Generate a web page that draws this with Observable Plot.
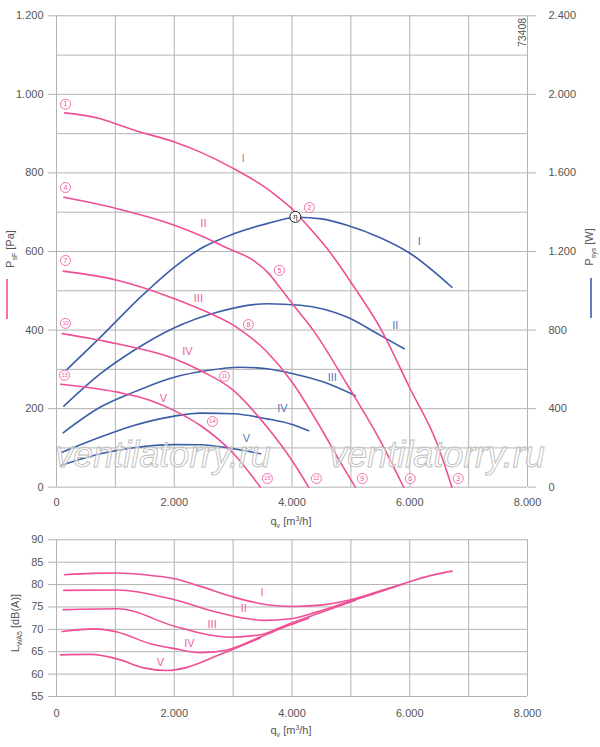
<!DOCTYPE html>
<html>
<head>
<meta charset="utf-8">
<script src="https://cdn.jsdelivr.net/npm/d3@7"></script>
<script src="https://cdn.jsdelivr.net/npm/@observablehq/plot@0.6"></script>
<style>
  html, body { margin: 0; padding: 0; background: #fff; }
  #chart svg { display: block; }
</style>
</head>
<body>
<div id="chart"></div>
<script>
// ---------------- DATA ----------------
// Flow q [m³/h] vs static pressure P_sF [Pa]
const pressureI_a = [[140,953],[747,938],[1030,924],[1312,909],[2003,879],[2444,853],[3010,811],[3576,760],[4000,709]];
const pressureI_b = [[4000,709],[4300,660],[4600,607],[5076,505],[5500,405],[6009,250],[6462,112],[6717,0]];
const pressureII  = [[125,738],[1030,709],[2003,667],[2444,641],[2925,607],[3349,577],[3600,545],[3802,507],[4000,468],[4368,398],[4934,262],[5500,118],[5896,0]];
const pressureIII = [[115,550],[1030,527],[2003,480],[2558,446],[3010,412],[3576,344],[4000,268],[4538,138],[4821,64],[5076,0]];
const pressureIV  = [[100,391],[1030,365],[2003,327],[2444,297],[3010,246],[3576,153],[4000,68],[4283,0]];
const pressureV   = [[70,262],[1030,242],[1596,221],[2003,195],[2444,157],[3010,85],[3463,0]];

// Flow q vs system power P_sys [W]
const powerI   = [[180,600],[747,764],[1426,968],[2003,1121],[2444,1214],[3010,1290],[3576,1342],[4100,1374],[4500,1366],[4935,1334],[5500,1270],[6009,1190],[6717,1018]];
const powerII  = [[125,413],[747,578],[1312,696],[2003,812],[2728,891],[3576,934],[4142,926],[4934,866],[5500,773],[5907,705]];
const powerIII = [[113,277],[747,408],[1312,484],[2003,560],[2558,594],[3123,611],[3576,603],[4000,579],[4538,535],[5076,466]];
const powerIV  = [[96,178],[747,255],[1312,314],[2003,362],[2444,377],[3010,374],[3576,348],[3972,322],[4283,288]];
const powerV   = [[68,110],[747,170],[1312,201],[2003,217],[2444,216],[3010,196],[3463,170]];

// Flow q vs sound power L_WA5 [dB(A)]
const soundI   = [[136,82.2],[600,82.5],[1030,82.6],[1500,82.2],[2003,81.3],[2444,79.6],[3010,77.2],[3576,75.5],[3972,75.1],[4481,75.4],[4991,76.6],[5500,78.6],[5896,80.2],[6349,82.0],[6717,83.0]];
const soundII  = [[124,78.7],[1030,78.8],[2003,76.6],[2728,73.8],[2954,73.1],[3293,72.3],[3519,72.0],[3972,72.35],[4425,73.9],[4991,76.3],[5500,78.4],[5896,80.2]];
const soundIII = [[113,74.4],[1030,74.6],[2003,70.7],[2558,68.85],[2954,68.25],[3463,68.8],[3800,70.4],[3972,71.3],[4500,73.8],[5076,76.5]];
const soundIV  = [[96,69.5],[634,70.1],[1030,69.4],[1596,66.8],[2003,65.7],[2444,64.8],[2897,65.4],[3463,68.3],[3972,71.0],[4283,72.5]];
const soundV   = [[68,64.3],[577,64.4],[1030,63.4],[1482,61.4],[1879,60.8],[2218,61.5],[2671,63.8],[3123,66.2],[3463,68.1]];

// Curve labels
const speedNames = ["I","II","III","IV","V"];
const pressureLabelQ = [3174,2495,2410,2224,1816];
const pressureLabelP = [837,671,481,346,226];
const powerLabelQ = [6162,5755,4685,3836,3225];
const powerLabelW = [1250,824,559,401,248];
const soundLabelQ = [3492,3180,2643,2258,1765];
const soundLabelL = [78.2,74.6,71.1,66.9,62.7];

// Operating point markers ①..⑮
const markerText = ["1","2","3","4","5","6","7","8","9","10","11","12","13","14","15"];
const markerQ = [153,4295,6824,153,3785,6009,153,3259,5194,153,2852,4414,136,2648,3582];
const markerP = [975,712,22,763,552,22,577,414,22,417,282,22,285,167,22];
const effMarker = [[4057,1376]]; // q, W

// Ticks
const flowTicks = [0,2000,4000,6000,8000];
const flowGrid = [0,1000,2000,3000,4000,5000,6000,7000,8000];
const pressureTicks = [0,200,400,600,800,1000,1200];
const pressureGrid = [0,100,200,300,400,500,600,700,800,900,1000,1100,1200];
const soundTicks = [55,60,65,70,75,80,85,90];

// ---------------- STYLE ----------------
const PINK = "#ef4f96", BLUE = "#3b5ea6", PINK_T = "#f0609f", BLUE_T = "#5678ba";
const GRID = "#b3b3b3", TEXT = "#555", FONT = "'Liberation Sans', Arial, sans-serif";
const fmt = d3.formatLocale({decimal: ",", thousands: ".", grouping: [3], currency: ["", ""]}).format(",.0f");

const rows = (pairs, series) => pairs.map(([q, v]) => ({q, v, series}));
const pressureRows = [
  ...rows(pressureI_a, "Ia"), ...rows(pressureI_b, "Ib"), ...rows(pressureII, "II"),
  ...rows(pressureIII, "III"), ...rows(pressureIV, "IV"), ...rows(pressureV, "V")
];
const powerRows = [
  ...rows(powerI, "I"), ...rows(powerII, "II"), ...rows(powerIII, "III"), ...rows(powerIV, "IV"), ...rows(powerV, "V")
];
const soundRows = [
  ...rows(soundI, "I"), ...rows(soundII, "II"), ...rows(soundIII, "III"), ...rows(soundIV, "IV"), ...rows(soundV, "V")
];
const pLabels = speedNames.map((t, i) => ({t, q: pressureLabelQ[i], v: pressureLabelP[i]}));
const wLabels = speedNames.map((t, i) => ({t, q: powerLabelQ[i], v: powerLabelW[i]}));
const sLabels = speedNames.map((t, i) => ({t, q: soundLabelQ[i], v: soundLabelL[i]}));
const markers = markerText.map((t, i) => ({t, q: markerQ[i], v: markerP[i]}));

const baseStyle = {fontFamily: FONT, fontSize: "11px", background: "white", overflow: "visible", color: TEXT};

// ---------------- TOP PLOT ----------------
const topPlot = Plot.plot({
  width: 600, height: 530,
  marginLeft: 56, marginRight: 73, marginTop: 15.3, marginBottom: 43.3,
  x: {domain: [0, 8000]},
  y: {domain: [0, 1200]},
  style: baseStyle,
  marks: [
    Plot.ruleX(flowGrid, {stroke: GRID, strokeWidth: 1}),
    Plot.ruleY(pressureGrid, {stroke: GRID, strokeWidth: 1}),
    Plot.axisY(pressureTicks, {tickFormat: fmt, tickSize: 8, tickPadding: 5, stroke: GRID, fill: TEXT, fontSize: 11, label: null}),
    Plot.axisY(pressureTicks, {anchor: "right", tickFormat: d => fmt(d * 2), tickSize: 8, tickPadding: 13, stroke: GRID, fill: TEXT, fontSize: 11, label: null}),
    Plot.axisX(flowTicks, {tickFormat: fmt, tickSize: 0, tickPadding: 11, fill: TEXT, fontSize: 11, label: null}),
    Plot.line(powerRows, {x: "q", y: d => d.v / 2, z: "series", stroke: BLUE, strokeWidth: 1.6, curve: "monotone-x"}),
    Plot.line(pressureRows, {x: "q", y: "v", z: "series", stroke: PINK, strokeWidth: 1.6, curve: "monotone-x"}),
    Plot.text(pLabels, {x: "q", y: "v", text: "t", fill: PINK_T, fontSize: 11}),
    Plot.text(wLabels, {x: "q", y: d => d.v / 2, text: "t", fill: BLUE_T, fontSize: 11}),
    Plot.dot(markers, {x: "q", y: "v", r: 5, stroke: PINK, fill: "white", strokeWidth: 0.8}),
    Plot.text(markers, {x: "q", y: "v", text: "t", fill: PINK, fontSize: d => d.t.length > 1 ? 5.5 : 7}),
    Plot.dot(effMarker, {x: d => d[0], y: d => d[1] / 2, r: 5.5, stroke: "#222", fill: "white", strokeWidth: 1}),
    Plot.text(effMarker, {x: d => d[0], y: d => d[1] / 2, text: () => "η", fill: "#222", fontSize: 8})
  ]
});

// ---------------- BOTTOM PLOT ----------------
const bottomPlot = Plot.plot({
  width: 600, height: 217,
  marginLeft: 56, marginRight: 73, marginTop: 9.3, marginBottom: 51,
  x: {domain: [0, 8000]},
  y: {domain: [55, 90]},
  style: baseStyle,
  marks: [
    Plot.ruleX(flowGrid, {stroke: GRID, strokeWidth: 1}),
    Plot.ruleY(soundTicks, {stroke: GRID, strokeWidth: 1}),
    Plot.axisY(soundTicks, {tickSize: 8, tickPadding: 5, stroke: GRID, fill: TEXT, fontSize: 11, label: null}),
    Plot.axisX(flowTicks, {tickFormat: fmt, tickSize: 0, tickPadding: 13, fill: TEXT, fontSize: 11, label: null}),
    Plot.line(soundRows, {x: "q", y: "v", z: "series", stroke: PINK, strokeWidth: 1.6, curve: "monotone-x"}),
    Plot.text(sLabels, {x: "q", y: "v", text: "t", fill: PINK_T, fontSize: 11})
  ]
});

// ---------------- ANNOTATIONS ----------------
function richText(svg, x, y, parts, {rotate = 0, anchor = "middle", size = 11, fill = TEXT} = {}) {
  const t = svg.append("text")
    .attr("transform", `translate(${x},${y})` + (rotate ? ` rotate(${rotate})` : ""))
    .attr("text-anchor", anchor).attr("font-size", size).attr("fill", fill).attr("font-family", FONT);
  let shift = 0;
  for (const [s, kind] of parts) {
    const target = kind === "sub" ? 3 : kind === "sup" ? -4 : 0;
    const ts = t.append("tspan").text(s).attr("dy", target - shift);
    if (kind) ts.attr("font-size", 7);
    shift = target;
  }
  return t;
}
const flowLabel = [["q", ""], ["v", "sub"], [" [m", ""], ["3", "sup"], ["/h]", ""]];

const st = d3.select(topPlot);
richText(st, 291, 525, flowLabel);
richText(st, 13.5, 249, [["P", ""], ["sF", "sub"], [" [Pa]", ""]], {rotate: -90});
st.append("line").attr("x1", 7).attr("x2", 7).attr("y1", 279).attr("y2", 319).attr("stroke", PINK).attr("stroke-width", 1.6);
richText(st, 593, 247, [["P", ""], ["sys", "sub"], [" [W]", ""]], {rotate: -90});
st.append("line").attr("x1", 591).attr("x2", 591).attr("y1", 278).attr("y2", 318).attr("stroke", BLUE).attr("stroke-width", 1.6);
richText(st, 526, 32.5, [["73408", ""]], {rotate: -90, size: 10.5});
for (const cx of [163, 437]) {
  st.append("text").attr("x", cx).attr("y", 467).attr("text-anchor", "middle")
    .attr("font-family", FONT).attr("font-style", "italic").attr("font-size", 36)
    .attr("fill", "white").attr("fill-opacity", 0.55).attr("stroke", "#bdbdbd").attr("stroke-width", 0.9)
    .text("ventilatorry.ru");
}

const sb = d3.select(bottomPlot);
richText(sb, 291, 734 - 530, flowLabel);
richText(sb, 19, 623 - 530, [["L", ""], ["WA5", "sub"], [" [dB(A)]", ""]], {rotate: -90});

document.getElementById("chart").append(topPlot, bottomPlot);
</script>
</body>
</html>
